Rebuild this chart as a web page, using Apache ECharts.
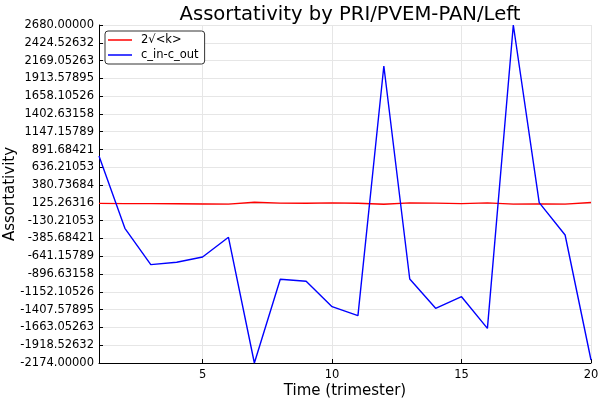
<!DOCTYPE html>
<html>
<head>
<meta charset="utf-8">
<script src="https://cdn.jsdelivr.net/npm/echarts@6/dist/echarts.min.js"></script>
<style>html,body{margin:0;padding:0;background:#fff}#c{width:600px;height:400px}</style>
</head>
<body>
<div id="c"></div>
<script>
const xValues = [1,2,3,4,5,6,7,8,9,10,11,12,13,14,15,16,17,18,19,20];
const redValues = [118,115,115,112,110,108,135,122,120,125,120,105,125,122,115,125,108,110,108,130];
const blueValues = [799,-240,-762,-728,-652,-369,-2174,-972,-1001,-1365,-1494,2091,-968,-1389,-1222,-1676,2680,130,-336,-2131];
const xTicks = [5,10,15,20];
const yTicks = [-2174,-1918.52632,-1663.05263,-1407.57895,-1152.10526,-896.63158,-641.15789,-385.68421,-130.21053,125.26316,380.73684,636.21053,891.68421,1147.15789,1402.63158,1658.10526,1913.57895,2169.05263,2424.52632,2680];
const seriesNames = ['2\u221A<k>','c_in-c_out'];

const font = 'DejaVu Sans';
const chart = echarts.init(document.getElementById('c'), null, {renderer:'canvas'});
chart.setOption({
  animation:false,
  backgroundColor:'#fff',
  title:{text:'Assortativity by PRI/PVEM-PAN/Left', left:345, textAlign:'center', top:0,
    textStyle:{fontFamily:font, fontSize:19.6, fontWeight:'normal', color:'#000'}},
  legend:{left:105, top:31, orient:'vertical', width:96, padding:[3,6,3,3], itemGap:3,
    borderColor:'#333', borderWidth:1, borderRadius:3, backgroundColor:'#fff',
    icon:'rect', itemWidth:24, itemHeight:1.5,
    textStyle:{fontFamily:font, fontSize:11.5, color:'#000', padding:[0,0,0,4]},
    data:seriesNames},
  grid:{left:99, right:9, top:25, bottom:37, containLabel:false, outerBoundsMode:'none'},
  xAxis:{type:'value', min:1, max:20,
    name:'Time (trimester)', nameLocation:'middle', nameGap:21, nameMoveOverlap:false,
    nameTextStyle:{fontFamily:font, fontSize:15, color:'#000'},
    axisLine:{show:true, onZero:false, lineStyle:{color:'#000', width:1}},
    axisTick:{show:true, inside:true, length:4, customValues:xTicks, lineStyle:{color:'#000'}},
    axisLabel:{customValues:xTicks, fontFamily:font, fontSize:11.5, color:'#000', margin:6},
    splitLine:{show:true, lineStyle:{color:'#e6e6e6', width:1}}},
  yAxis:{type:'value', min:yTicks[0], max:yTicks[yTicks.length-1],
    name:'Assortativity', nameLocation:'middle', nameGap:81, nameRotate:90, nameMoveOverlap:false,
    nameTextStyle:{fontFamily:font, fontSize:15, color:'#000'},
    axisLine:{show:true, onZero:false, lineStyle:{color:'#000', width:1}},
    axisTick:{show:true, inside:true, length:4, customValues:yTicks, lineStyle:{color:'#000'}},
    axisLabel:{customValues:yTicks, fontFamily:font, fontSize:11.5, color:'#000', margin:5,
      formatter:v=>Number(v).toFixed(5)},
    splitLine:{show:true, lineStyle:{color:'#e6e6e6', width:1}}},
  series:[
    {name:seriesNames[0], type:'line', showSymbol:false, symbol:'none',
     lineStyle:{color:'#ff0000', width:1.4}, itemStyle:{color:'#ff0000'},
     data:xValues.map((x,i)=>[x, redValues[i]])},
    {name:seriesNames[1], type:'line', showSymbol:false, symbol:'none',
     lineStyle:{color:'#0000ff', width:1.4}, itemStyle:{color:'#0000ff'},
     data:xValues.map((x,i)=>[x, blueValues[i]])}
  ]
});
</script>
</body>
</html>
